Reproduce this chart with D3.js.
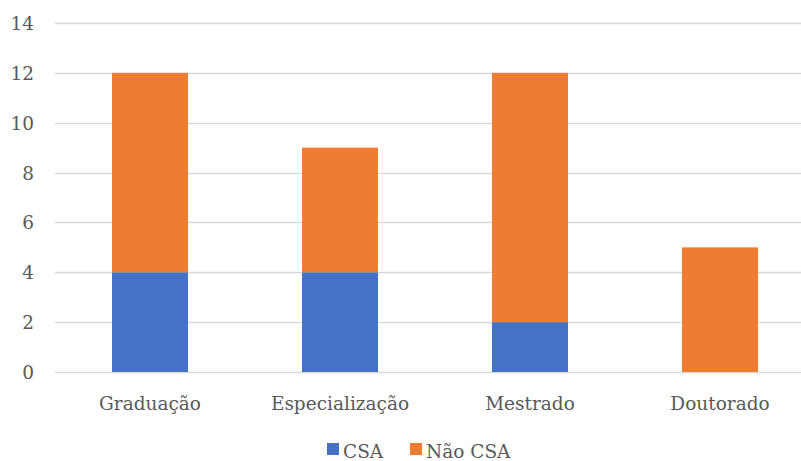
<!DOCTYPE html>
<html>
<head>
<meta charset="utf-8">
<script src="https://cdn.jsdelivr.net/npm/d3@7"></script>
<style>
  body { margin: 0; background: #fff; }
</style>
</head>
<body>
<script>
var categories = ["Graduação", "Especialização", "Mestrado", "Doutorado"];
var csa = [4, 4, 2, 0];
var naoCsa = [8, 5, 10, 5];
var yTicks = [0, 2, 4, 6, 8, 10, 12, 14];
var seriesNames = ["CSA", "Não CSA"];
var colors = ["#4472C4", "#ED7D31"];

var width = 801, height = 461;
// no Times here, DejaVu Serif is the nearest serif that renders
var font = "'DejaVu Serif', serif";
var fontSize = "18.5px";

var svg = d3.select("body").append("svg")
    .attr("width", width)
    .attr("height", height);

var x = d3.scaleBand()
    .domain(categories)
    .range([55, 815])
    .paddingInner(0.6)
    .paddingOuter(0.3);

var y = d3.scaleLinear()
    .domain([0, 14])
    .range([372, 23]);

// gridlines
svg.selectAll(".grid")
    .data(yTicks)
    .enter()
    .append("line")
    .attr("x1", 55)
    .attr("x2", 815)
    .attr("y1", function(d) { return Math.round(y(d)) + 0.5; })
    .attr("y2", function(d) { return Math.round(y(d)) + 0.5; })
    .attr("stroke", "#d9d9d9")
    .attr("stroke-width", 1.5);

// y tick labels
svg.selectAll(".ylab")
    .data(yTicks)
    .enter()
    .append("text")
    .attr("x", 34)
    .attr("y", function(d) { return y(d) + 7; })
    .attr("text-anchor", "end")
    .style("font-size", fontSize)
    .style("font-family", font)
    .attr("fill", "#595959")
    .text(function(d) { return d; });

var stacked = categories.map(function(c, i) {
  return { cat: c, csa: csa[i], nao: naoCsa[i] };
});

// CSA bars
svg.selectAll(".csa")
    .data(stacked)
    .enter()
    .append("rect")
    .attr("x", function(d) { return x(d.cat); })
    .attr("width", x.bandwidth())
    .attr("y", function(d) { return y(d.csa); })
    .attr("height", function(d) { return y(0) - y(d.csa); })
    .attr("fill", colors[0]);

// Não CSA bars
svg.selectAll(".nao")
    .data(stacked)
    .enter()
    .append("rect")
    .attr("x", function(d) { return x(d.cat); })
    .attr("width", x.bandwidth())
    .attr("y", function(d) { return y(d.csa + d.nao); })
    .attr("height", function(d) { return y(d.csa) - y(d.csa + d.nao); })
    .attr("fill", colors[1]);

// category labels
svg.selectAll(".xlab")
    .data(categories)
    .enter()
    .append("text")
    .attr("x", function(d) { return x(d) + x.bandwidth() / 2; })
    .attr("y", 410)
    .attr("text-anchor", "middle")
    .style("font-size", fontSize)
    .style("font-family", font)
    .attr("fill", "#595959")
    .text(function(d) { return d; });

// legend
var legendX = [327, 410];
var legend = svg.selectAll(".legend")
    .data(seriesNames)
    .enter()
    .append("g")
    .attr("transform", function(d, i) { return "translate(" + legendX[i] + ",0)"; });

legend.append("rect")
    .attr("x", 0)
    .attr("y", 443)
    .attr("width", 12)
    .attr("height", 12)
    .attr("fill", function(d, i) { return colors[i]; });

legend.append("text")
    .attr("x", 16)
    .attr("y", 458)
    .style("font-size", fontSize)
    .style("font-family", font)
    .attr("fill", "#595959")
    .text(function(d) { return d; });
</script>
</body>
</html>
